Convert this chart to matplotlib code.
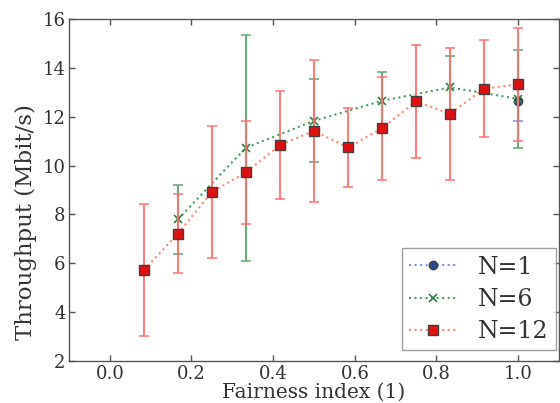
import matplotlib
matplotlib.use("Agg")
import matplotlib.pyplot as plt
import numpy as np

# ---- data ----
x1 = [1.0]
y1 = [12.64]
e1 = [0.8]

x6 = [1/6, 2/6, 3/6, 4/6, 5/6, 1.0]
y6 = [7.8, 10.73, 11.83, 12.65, 13.2, 12.73]
e6 = [1.4, 4.62, 1.7, 1.17, 1.3, 2.0]

x12 = [1/12, 2/12, 3/12, 4/12, 5/12, 6/12, 7/12, 8/12, 9/12, 10/12, 11/12, 1.0]
y12 = [5.72, 7.21, 8.92, 9.72, 10.84, 11.42, 10.74, 11.53, 12.63, 12.12, 13.15, 13.32]
e12 = [2.71, 1.61, 2.7, 2.11, 2.22, 2.91, 1.61, 2.11, 2.32, 2.71, 2.0, 2.3]

labels = ["N=1", "N=6", "N=12"]
xticks = [0.0, 0.2, 0.4, 0.6, 0.8, 1.0]
yticks = [2, 4, 6, 8, 10, 12, 14, 16]

plt.rcParams['font.family'] = ['DejaVu Serif']
txt = '#333333'

fig = plt.figure(figsize=(5.6, 4.03), dpi=100)
ax = fig.add_axes([0.1232, 0.1042, 0.8750, 0.8487])

series = [
    (x1, y1, e1, labels[0], 'o', '#2a4a9a', '#8090e0', '#8090e0', 6),
    (x6, y6, e6, labels[1], 'x', '#2f8040', '#4aa060', '#5aa870', 6),
    (x12, y12, e12, labels[2], 's', '#e01010', '#ff8a70', '#ff7070', 7),
]
handles = []
for xs, ys, es, lab, mk, mc, lc, ec, ms in series:
    ax.errorbar(xs, ys, yerr=es, fmt='none', ecolor=ec, elinewidth=1.5,
                capsize=3.8, capthick=1.2, alpha=0.9)
    if mk == 'x':
        h, = ax.plot(xs, ys, linestyle=':', color=lc, linewidth=1.5,
                     marker=mk, markersize=ms, markeredgecolor=mc,
                     markeredgewidth=1.2, label=lab)
    else:
        h, = ax.plot(xs, ys, linestyle=':', color=lc, linewidth=1.5,
                     marker=mk, markersize=ms, markerfacecolor=mc,
                     markeredgecolor='#404040', markeredgewidth=1.0, label=lab)
    handles.append(h)

ax.set_xlim(-0.1, 1.1)
ax.set_ylim(2, 16)
ax.set_xticks(xticks)
ax.set_yticks(yticks)
ax.set_xticklabels([f"{v:.1f}" for v in xticks])
ax.tick_params(direction='in', length=4, width=1, colors='#555555',
               labelcolor=txt, labelsize=13, top=True, right=True)
ax.tick_params(axis='x', pad=3.0)
ax.tick_params(axis='y', pad=2.5)
for s in ax.spines.values():
    s.set_color('#555555')
    s.set_linewidth(1.0)

ax.set_xlabel("Fairness index (1)", fontsize=14.5, color=txt, labelpad=0)
ax.set_ylabel("Throughput (Mbit/s)", fontsize=16.5, color=txt)
ax.yaxis.set_label_coords(-0.065, 0.405)

leg = ax.legend(handles=handles, loc='lower right', fontsize=17,
                bbox_to_anchor=(0.994, 0.032), borderaxespad=0,
                frameon=True, fancybox=False,
                handlelength=2.05, handletextpad=0.9, labelspacing=0.39,
                borderpad=0.3)
leg.get_frame().set_edgecolor('#888888')
leg.get_frame().set_linewidth(1.0)
for t in leg.get_texts():
    t.set_color(txt)

fig.savefig("out.png", dpi=100)
